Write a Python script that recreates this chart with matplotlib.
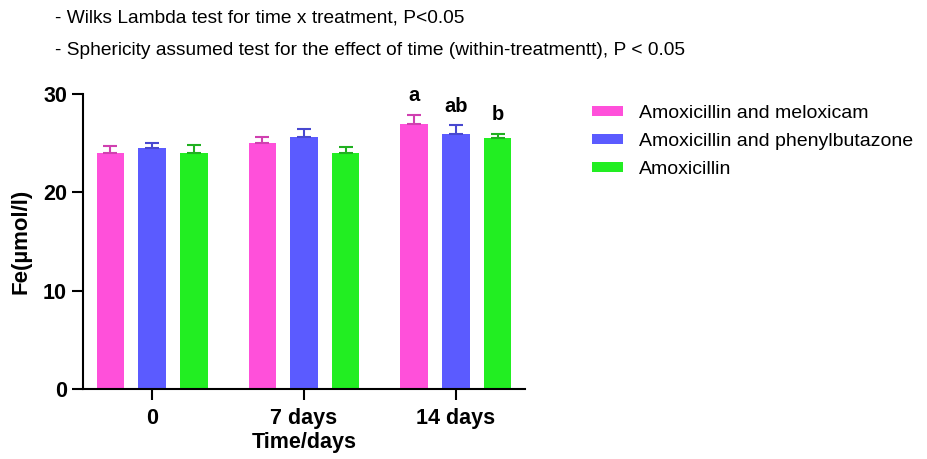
import numpy as np
import matplotlib.pyplot as plt

plt.rcParams['font.family'] = ['Liberation Sans', 'DejaVu Sans']

# data
times = ['0', '7 days', '14 days']
groups = ['Amoxicillin and meloxicam', 'Amoxicillin and phenylbutazone', 'Amoxicillin']
meloxicam = [24.0, 25.0, 27.0]
phenylbutazone = [24.5, 25.6, 25.9]
amoxicillin = [24.0, 24.0, 25.5]
err_melox = [0.7, 0.6, 0.9]
err_phenyl = [0.5, 0.8, 0.9]
err_amox = [0.8, 0.6, 0.4]
letters_14 = ['a', 'ab', 'b']

colors = ['#FF50DA', '#5B5BFF', '#22EE22']
err_colors = ['#D040B0', '#4848D0', '#20B020']

fig = plt.figure(figsize=(9.28, 4.59), dpi=100)
ax = fig.add_axes([0.0894, 0.1525, 0.4763, 0.6427])

x = np.arange(len(times))
offsets = [-0.275, 0.0, 0.275]
width = 0.18
series = [meloxicam, phenylbutazone, amoxicillin]
errs = [err_melox, err_phenyl, err_amox]

for vals, e, off, c, ec, name in zip(series, errs, offsets, colors, err_colors, groups):
    ax.bar(x + off, vals, width, color=c, label=name)
    ax.errorbar(x + off, vals, yerr=[np.zeros(len(e)), e], fmt='none',
                ecolor=ec, elinewidth=1.5, capsize=5, capthick=1.5)

# significance letters on the 14 day group
for i, lab in enumerate(letters_14):
    top = series[i][2] + errs[i][2]
    ax.annotate(lab, (x[2] + offsets[i], top), xytext=(0, 14),
                textcoords='offset points', ha='center', va='center',
                fontsize=14.5, fontweight='bold')

ax.set_xlim(-0.455, 2.455)
ax.set_ylim(0, 30)
ax.set_yticks([0, 10, 20, 30])
ax.set_xticks(x)
ax.set_xticklabels(times)
for s in ['top', 'right']:
    ax.spines[s].set_visible(False)
for s in ['left', 'bottom']:
    ax.spines[s].set_linewidth(1.5)
ax.tick_params(width=1.5, length=8, labelsize=15.5)
ax.tick_params(axis='x', pad=6)
for t in ax.get_xticklabels() + ax.get_yticklabels():
    t.set_fontweight('bold')
ax.set_ylabel('Fe(µmol/l)', fontsize=16, fontweight='bold', labelpad=8)
ax.set_xlabel('Time/days', fontsize=15.5, fontweight='bold', labelpad=2)

ax.legend(loc='upper left', bbox_to_anchor=(1.112, 1.022), frameon=False,
          fontsize=14, handlelength=1.6, handleheight=0.45, labelspacing=0.56,
          handletextpad=0.8)

fig.text(0.059, 0.961, '- Wilks Lambda test for time x treatment, P<0.05',
         fontsize=13.8, va='center')
fig.text(0.059, 0.891, '- Sphericity assumed test for the effect of time (within-treatmentt), P < 0.05',
         fontsize=13.8, va='center')

fig.savefig('out.png', dpi=100)
